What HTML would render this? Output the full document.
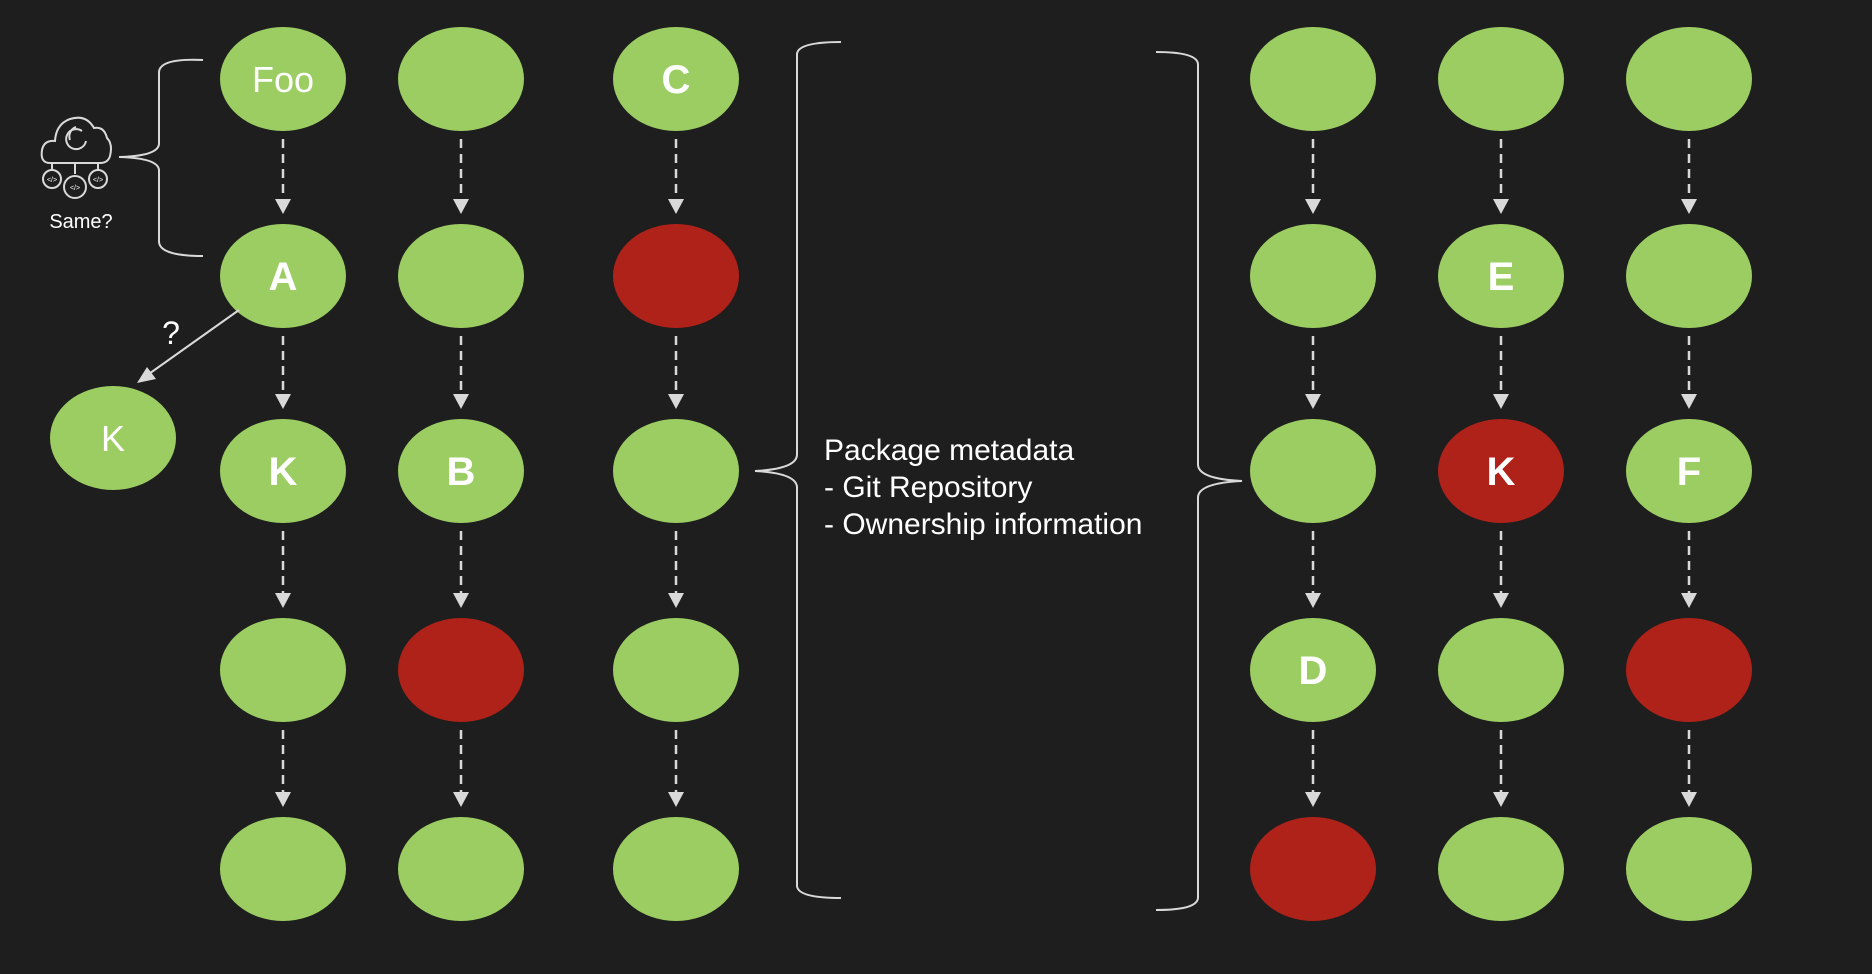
<!DOCTYPE html>
<html><head><meta charset="utf-8"><style>
html,body{margin:0;padding:0;background:#1e1e1e;}
svg{display:block;}
text{font-family:"Liberation Sans",Arial,sans-serif;fill:#fff;}
</style></head><body>
<svg width="1872" height="974" viewBox="0 0 1872 974" xmlns="http://www.w3.org/2000/svg">
<defs>
<marker id="ah" markerWidth="8" markerHeight="8" refX="7" refY="4" orient="auto" markerUnits="userSpaceOnUse" viewBox="0 0 8 8">
</marker>
</defs>
<rect width="1872" height="974" fill="#1e1e1e"/>
<g id="arrows" stroke="#d9d9d9" stroke-width="2.5" stroke-dasharray="9 6" fill="none">
</g>
<script>
(function(){
var cols=[283,461,676,1313,1501,1689], rows=[79,276,471,670,869];
var ns="http://www.w3.org/2000/svg", g=document.getElementById('arrows'), root=g.parentNode;
var R="#ae2219",G="#9ccd63";
var colors=[
[G,G,G,G,G],[G,G,G,R,G],[G,R,G,G,G],[G,G,G,G,R],[G,G,R,G,G],[G,G,G,R,G]];
var labels=[
["Foo","A","K","",""],["","","B","",""],["C","","","",""],["","","","D",""],["","E","K","",""],["","","F","",""]];
for(var c=0;c<6;c++){
 for(var r=0;r<5;r++){
  var x=cols[c], y=rows[r];
  var e=document.createElementNS(ns,'ellipse');
  e.setAttribute('cx',x);e.setAttribute('cy',y);e.setAttribute('rx',63);e.setAttribute('ry',52);e.setAttribute('fill',colors[c][r]);
  root.appendChild(e);
  var L=labels[c][r];
  if(L){var t=document.createElementNS(ns,'text');t.setAttribute('x',x);t.setAttribute('y',y+13);t.setAttribute('text-anchor','middle');
   if(L=="Foo"){t.setAttribute('font-size','36');t.setAttribute('y',y+13);}
   else{t.setAttribute('font-size','40');t.setAttribute('font-weight','bold');t.setAttribute('y',y+14);}
   t.textContent=L;root.appendChild(t);}
  if(r<4){
   var y1=y+60,y2=rows[r+1]-70;
   var l=document.createElementNS(ns,'line');l.setAttribute('x1',x);l.setAttribute('x2',x);l.setAttribute('y1',y1);l.setAttribute('y2',y2);g.appendChild(l);
   var p=document.createElementNS(ns,'polygon');var tip=rows[r+1]-62;
   p.setAttribute('points',(x-8)+','+(tip-15)+' '+(x+8)+','+(tip-15)+' '+x+','+tip);p.setAttribute('fill','#d9d9d9');root.appendChild(p);
  }
 }
}
})();
</script>
<!-- left K -->
<ellipse cx="113" cy="438" rx="63" ry="52" fill="#9ccd63"/>
<text x="113" y="451" font-size="36" text-anchor="middle">K</text>
<!-- diagonal arrow -->
<line x1="239" y1="310" x2="146" y2="376" stroke="#d9d9d9" stroke-width="2"/>
<polygon points="137,383 147,367 156,379" fill="#d9d9d9"/>
<text x="171" y="344" font-size="32" text-anchor="middle">?</text>
<!-- small bracket -->
<path d="M203,60 Q160,58 159,72 L159,144 Q158,156 119,157 Q158,158 159,170 L159,242 Q160,256 203,256" stroke="#d9d9d9" stroke-width="2" fill="none"/>
<!-- icon -->
<g stroke="#d9d9d9" stroke-width="2" fill="none">
<path d="M50,163 Q40,163 42,150 Q44,140 55,141 Q56,124 70,119 Q86,114 94,128 Q104,126 107,138 Q113,144 110,156 Q108,163 100,163 Z"/>
<path d="M82,131 A10,10 0 1 0 86,141"/>
<path d="M70,140 A10,10 0 0 1 76,127"/>
<line x1="52" y1="163" x2="52" y2="170"/><line x1="75" y1="163" x2="75" y2="174"/><line x1="98" y1="163" x2="98" y2="170"/>
<circle cx="52" cy="179" r="9"/><circle cx="75" cy="187" r="11"/><circle cx="98" cy="179" r="9"/>
</g>
<g font-size="7" text-anchor="middle"><text x="52" y="182">&lt;/&gt;</text><text x="75" y="190">&lt;/&gt;</text><text x="98" y="182">&lt;/&gt;</text></g>
<text x="81" y="228" font-size="20" text-anchor="middle">Same?</text>
<!-- big left bracket -->
<path d="M841,42 Q798,42 797,54 L797,455 Q796,469 755,471 Q796,473 797,487 L797,886 Q798,898 841,898" stroke="#d9d9d9" stroke-width="2" fill="none"/>
<!-- right bracket -->
<path d="M1156,52 Q1197,52 1198,64 L1198,465 Q1199,479 1242,481 Q1199,483 1198,497 L1198,898 Q1197,910 1156,910" stroke="#d9d9d9" stroke-width="2" fill="none"/>
<!-- text -->
<g font-size="30">
<text x="824" y="460">Package metadata</text>
<text x="824" y="497">- Git Repository</text>
<text x="824" y="534">- Ownership information</text>
</g>
</svg>
</body></html>
